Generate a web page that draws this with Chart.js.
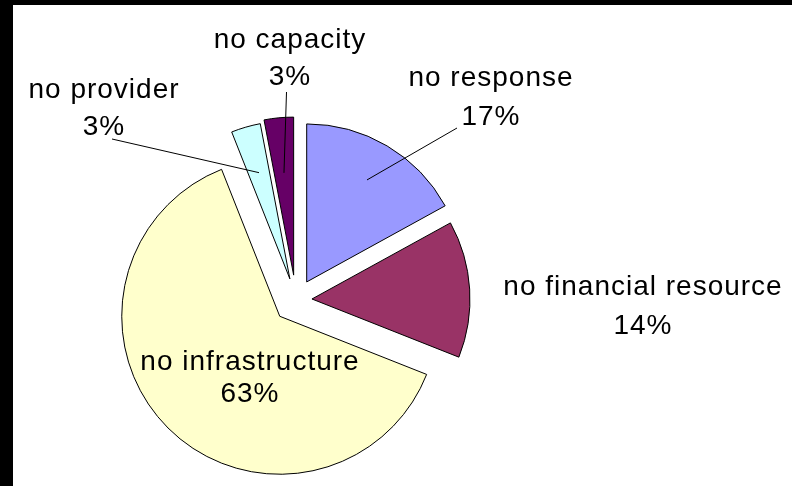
<!DOCTYPE html>
<html>
<head>
<meta charset="utf-8">
<script src="https://cdn.jsdelivr.net/npm/chart.js@4"></script>
<style>
  body { margin: 0; background: #fff; }
  canvas { display: block; }
</style>
</head>
<body>
<canvas id="pie" width="792" height="486"></canvas>
<script>
const categories = ['no response', 'no financial resource', 'no infrastructure', 'no provider', 'no capacity'];
const shares = [17, 14, 63, 3, 3];
const sliceColors = ['#9999FF', '#993366', '#FFFFCC', '#CCFFFF', '#660066'];

// how far each slice is pulled out of the pie (px)
const explode = [21, 16, 23, 22, 25];

// label placement: centre x, baseline of each line, where the leader starts and how deep it goes into the slice
const labelX = [491, 643, 250, 104, 290];
const labelY = [[86, 125], [295, 334], [370, 402], [98, 135], [48, 85]];
const leaderFrom = [[457, 128], null, null, [112, 139], [286.5, 92]];
const leaderDepth = [0.75, 0, 0, 0.7, 0.65];

function sliceShift(arc, i) {
    const mid = (arc.startAngle + arc.endAngle) / 2;
    return { mid: mid, dx: Math.cos(mid) * explode[i], dy: Math.sin(mid) * explode[i] };
}

// white sheet with the dark strip on the left and top edges
const frame = {
    id: 'frame',
    beforeDraw(chart) {
        const ctx = chart.ctx;
        ctx.save();
        ctx.fillStyle = '#fff';
        ctx.fillRect(0, 0, chart.width, chart.height);
        ctx.fillStyle = '#000';
        ctx.fillRect(0, 0, 13, chart.height);
        ctx.fillRect(0, 0, chart.width, 5);
        ctx.restore();
    }
};

// draw the arcs ourselves so every slice can be pulled out without growing
const explodedSlices = {
    id: 'explodedSlices',
    beforeDatasetDraw(chart, args) {
        const ctx = chart.ctx;
        args.meta.data.forEach((arc, i) => {
            const s = sliceShift(arc, i);
            ctx.save();
            ctx.translate(s.dx, s.dy);
            arc.draw(ctx);
            ctx.restore();
        });
        return false;
    }
};

const sliceLabels = {
    id: 'sliceLabels',
    afterDatasetsDraw(chart) {
        const ctx = chart.ctx;
        const arcs = chart.getDatasetMeta(0).data;
        ctx.save();
        ctx.strokeStyle = '#000';
        ctx.lineWidth = 1;
        arcs.forEach((arc, i) => {
            if (!leaderFrom[i]) return;
            const s = sliceShift(arc, i);
            const r = arc.outerRadius * leaderDepth[i];
            ctx.beginPath();
            ctx.moveTo(leaderFrom[i][0], leaderFrom[i][1]);
            ctx.lineTo(arc.x + s.dx + Math.cos(s.mid) * r, arc.y + s.dy + Math.sin(s.mid) * r);
            ctx.stroke();
        });
        ctx.fillStyle = '#000';
        ctx.font = '28px "Liberation Sans", Arial, sans-serif';
        ctx.textAlign = 'center';
        ctx.textBaseline = 'alphabetic';
        if ('letterSpacing' in ctx) ctx.letterSpacing = '1px';
        categories.forEach((name, i) => {
            ctx.fillText(name, labelX[i], labelY[i][0]);
            ctx.fillText(shares[i] + '%', labelX[i], labelY[i][1]);
        });
        ctx.restore();
    }
};

new Chart(document.getElementById('pie'), {
    type: 'pie',
    data: {
        labels: categories,
        datasets: [{
            data: shares,
            backgroundColor: sliceColors,
            borderColor: '#000',
            borderWidth: 1,
            borderJoinStyle: 'miter'
        }]
    },
    options: {
        responsive: false,
        animation: false,
        radius: 158,
        layout: { padding: { left: 0, right: 200, top: 114, bottom: 0 } },
        plugins: {
            legend: { display: false },
            tooltip: { enabled: false }
        }
    },
    plugins: [frame, explodedSlices, sliceLabels]
});
</script>
</body>
</html>
